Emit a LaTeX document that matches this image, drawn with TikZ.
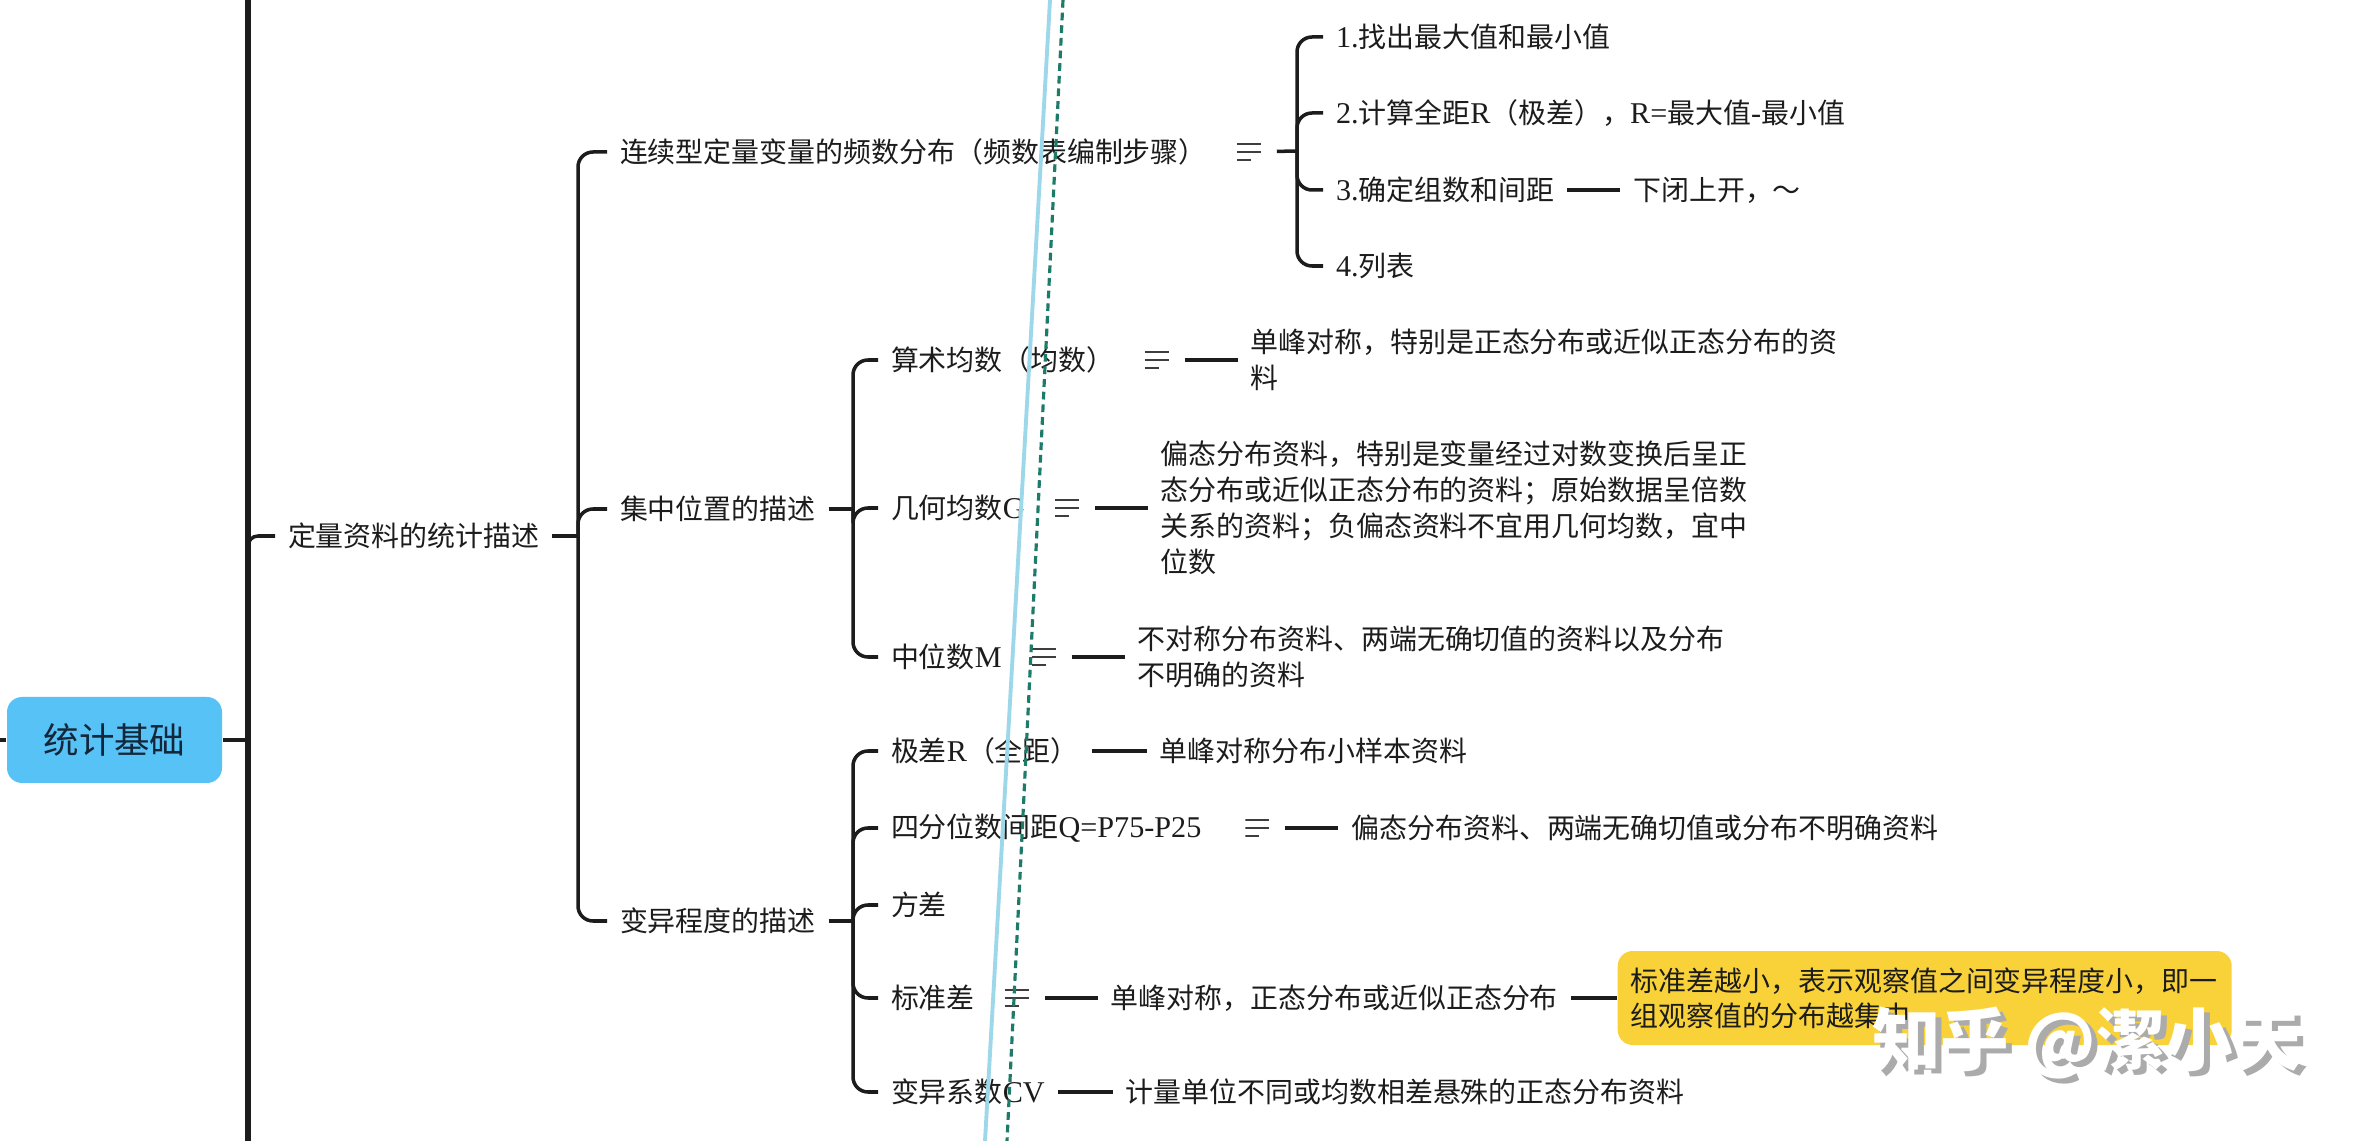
\documentclass[tikz,border=0pt]{standalone}
\usepackage{fontspec}
\setmainfont{Noto Sans CJK SC}
\newfontfamily\en[Scale=1.08]{Liberation Serif}
\usepackage{xcolor}
\usepackage{tikz}
\usetikzlibrary{positioning,calc}

\definecolor{rootfill}{HTML}{56C2F5}
\definecolor{notefill}{HTML}{F9D23A}
\definecolor{inkcol}{HTML}{1C1C1C}
\definecolor{rootink}{HTML}{13263A}
\definecolor{penblue}{HTML}{9DD7EA}
\definecolor{pengreen}{HTML}{1E7B69}
\definecolor{markgray}{HTML}{ABABAB}

\begin{document}
\begin{tikzpicture}[
    txt/.style={inner sep=0pt, outer xsep=0.13cm, outer ysep=0pt, align=left, text=inkcol,
      font=\fontsize{7.95}{10.3}\selectfont},
    rootbox/.style={fill=rootfill, rounded corners=0.15cm, minimum width=2.15cm,
      minimum height=0.86cm, inner sep=0pt, text=rootink, font=\fontsize{10.1}{12}\selectfont},
    notebox/.style={fill=notefill, rounded corners=0.15cm, text width=5.88cm, minimum height=0.94cm,
      inner xsep=0.13cm, inner ysep=0pt, align=left, text=inkcol, font=\fontsize{7.95}{10}\selectfont},
    noteicon/.style={minimum width=0.25cm, minimum height=0.26cm, inner sep=0pt, outer xsep=0.15cm,
      path picture={\draw [line width=0.7pt, inkcol!85]
        ([yshift=0.08cm]path picture bounding box.west) -- ++(0.24,0)
        (path picture bounding box.west) -- ++(0.24,0)
        ([yshift=-0.08cm]path picture bounding box.west) -- ++(0.14,0);}},
    watermark/.style={font=\fontsize{19.5}{20}\selectfont\bfseries, inner sep=0pt},
    link/.style={draw=inkcol, line width=1pt},
    branch/.style={link, rounded corners=0.15cm},
    spine/.style={draw=inkcol, line width=1.45pt},
]
    % Frame
    \useasboundingbox (0,0) rectangle (23.67,-11.41);
    \fill [white] (0,0) rectangle (23.67,-11.41);

    % Root and spine
    \node [rootbox] (root) at (1.145,-7.40) {统计基础};
    \coordinate (rootstub) at (0,-7.40);
    \coordinate (spinetop) at (2.48,0);
    \coordinate (spinebot) at (2.48,-11.41);
    \coordinate (spineroot) at (2.48,-7.40);
    \coordinate (spinejoin) at (2.48,-5.62);
    \draw [spine] (spinetop) -- (spinebot);
    \draw [link, line width=1.2pt] (rootstub) -- (root);
    \draw [link, line width=1.2pt] (root) -- (spineroot);

    % Level 1
    \node [txt, anchor=west] (desc) at (2.75,-5.36) {定量资料的统计描述};
    \draw [branch, rounded corners=0.1cm] (spinejoin) |- (desc);
    \coordinate (b1) at (5.78,-5.36);
    \draw [link] (desc) -- (b1);

    % Level 2
    \node [txt, anchor=west] (freq) at (6.07,-1.52) {连续型定量变量的频数分布（频数表编制步骤）};
    \node [txt, anchor=west] (level) at (6.07,-5.09) {集中位置的描述};
    \node [txt, anchor=west] (spread) at (6.07,-9.21) {变异程度的描述};
    \draw [branch] (b1) |- (freq);
    \draw [branch] (b1) |- (level);
    \draw [branch] (b1) |- (spread);

    % Frequency table steps
    \node [noteicon, right=0.02cm of freq] (freqicon) {};
    \coordinate (b2) at (12.97,-1.51);
    \draw [link] (freqicon) -- (b2);
    \node [txt, anchor=west] (step1) at (13.23,-0.37) {{\en 1.}找出最大值和最小值};
    \node [txt, anchor=west] (step2) at (13.23,-1.13) {{\en 2.}计算全距{\en R}（极差），{\en R=}最大值{\en -}最小值};
    \node [txt, anchor=west] (step3) at (13.23,-1.90) {{\en 3.}确定组数和间距};
    \node [txt, anchor=west] (step4) at (13.23,-2.66) {{\en 4.}列表};
    \draw [branch] (b2) |- (step1);
    \draw [branch] (b2) |- (step2);
    \draw [branch] (b2) |- (step3);
    \draw [branch] (b2) |- (step4);
    \node [txt, right=0.53cm of step3] (step3note) {下闭上开，～};
    \draw [link] (step3) -- (step3note);

    % Central tendency
    \coordinate (b3) at (8.53,-5.09);
    \draw [link] (level) -- (b3);
    \node [txt, anchor=west] (mean) at (8.78,-3.60) {算术均数（均数）};
    \node [txt, anchor=west] (geo) at (8.78,-5.08) {几何均数{\en G}};
    \node [txt, anchor=west] (median) at (8.78,-6.57) {中位数{\en M}};
    \draw [branch] (b3) |- (mean);
    \draw [branch] (b3) |- (geo);
    \draw [branch] (b3) |- (median);

    \node [noteicon, right=0.02cm of mean] (meanicon) {};
    \node [txt, right=0.53cm of meanicon] (meannote) {单峰对称，特别是正态分布或近似正态分布的资\\料};
    \draw [link] (meanicon) -- (meannote);

    \node [noteicon, right=0.02cm of geo] (geoicon) {};
    \node [txt, right=0.53cm of geoicon] (geonote) {偏态分布资料，特别是变量经过对数变换后呈正\\态分布或近似正态分布的资料；原始数据呈倍数\\关系的资料；负偏态资料不宜用几何均数，宜中\\位数};
    \draw [link] (geoicon) -- (geonote);

    \node [noteicon, right=0.02cm of median] (medianicon) {};
    \node [txt, right=0.53cm of medianicon] (mediannote) {不对称分布资料、两端无确切值的资料以及分布\\不明确的资料};
    \draw [link] (medianicon) -- (mediannote);

    % Dispersion
    \coordinate (b4) at (8.53,-9.21);
    \draw [link] (spread) -- (b4);
    \node [txt, anchor=west] (range) at (8.78,-7.51) {极差{\en R}（全距）};
    \node [txt, anchor=west] (iqr) at (8.78,-8.28) {四分位数间距{\en Q=P75-P25}};
    \node [txt, anchor=west] (var) at (8.78,-9.05) {方差};
    \node [txt, anchor=west] (sd) at (8.78,-9.98) {标准差};
    \node [txt, anchor=west] (cv) at (8.78,-10.92) {变异系数{\en CV}};
    \draw [branch] (b4) |- (range);
    \draw [branch] (b4) |- (iqr);
    \draw [branch] (b4) |- (var);
    \draw [branch] (b4) |- (sd);
    \draw [branch] (b4) |- (cv);

    \node [txt, right=0.55cm of range] (rangenote) {单峰对称分布小样本资料};
    \draw [link] (range) -- (rangenote);

    \node [noteicon, right=0.16cm of iqr] (iqricon) {};
    \node [txt, right=0.53cm of iqricon] (iqrnote) {偏态分布资料、两端无确切值或分布不明确资料};
    \draw [link] (iqricon) -- (iqrnote);

    \node [noteicon, right=0.02cm of sd] (sdicon) {};
    \node [txt, right=0.53cm of sdicon] (sdnote) {单峰对称，正态分布或近似正态分布};
    \draw [link] (sdicon) -- (sdnote);
    \node [notebox, anchor=west] (sdbox) at (16.17,-9.98) {标准差越小，表示观察值之间变异程度小，即一\\组观察值的分布越集中};
    \draw [link] (sdnote) -- (sdbox);

    \node [txt, right=0.55cm of cv] (cvnote) {计量单位不同或均数相差悬殊的正态分布资料};
    \draw [link] (cv) -- (cvnote);

    % Pen strokes
    \coordinate (bluetop) at (10.50,0);
    \coordinate (bluebot) at (9.85,-11.41);
    \coordinate (greentop) at (10.63,0);
    \coordinate (greenbot) at (10.07,-11.41);
    \draw [penblue, line width=1.1pt] (bluetop) -- (bluebot);
    \draw [pengreen, line width=0.9pt, dash pattern=on 2.2pt off 1.4pt] (greentop) -- (greenbot);

    % Watermark
    \node [watermark, text=markgray] (markshadow) at (20.93,-10.48) {知乎 @潔小天};
    \node [watermark, text=white] (mark) at (20.87,-10.43) {知乎 @潔小天};

\end{tikzpicture}
\end{document}
